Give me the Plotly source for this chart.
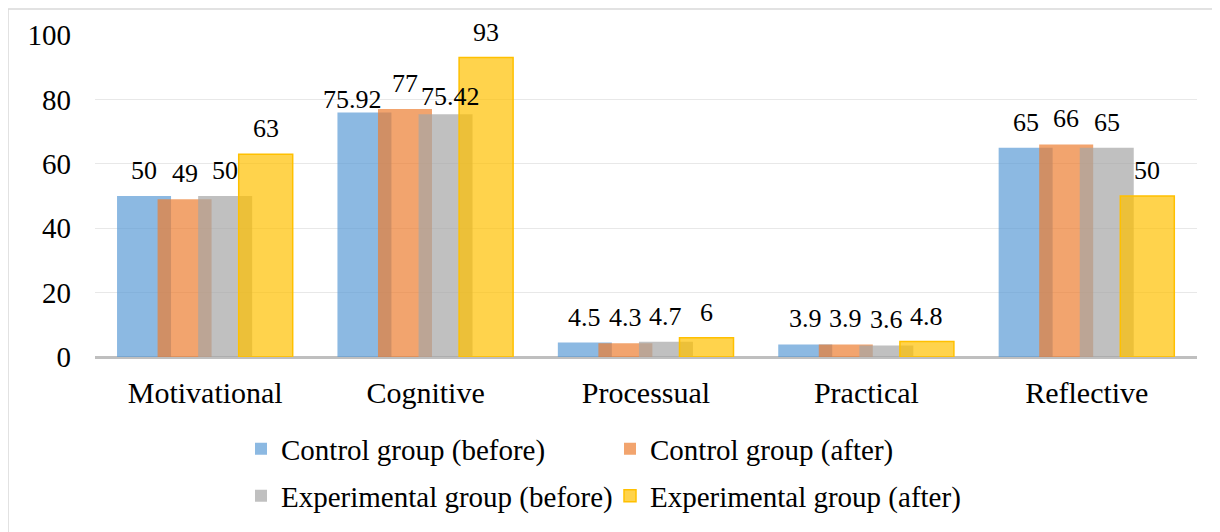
import plotly.graph_objects as go

categories = ["Motivational", "Cognitive", "Processual", "Practical", "Reflective"]
series_names = ["Control group (before)", "Control group (after)",
                "Experimental group (before)", "Experimental group (after)"]
control_before = [50, 75.92, 4.5, 3.9, 65]
control_after = [49, 77, 4.3, 3.9, 66]
experimental_before = [50, 75.42, 4.7, 3.6, 65]
experimental_after = [63, 93, 6, 4.8, 50]
label_text = [
    ["50", "75.92", "4.5", "3.9", "65"],
    ["49", "77", "4.3", "3.9", "66"],
    ["50", "75.42", "4.7", "3.6", "65"],
    ["63", "93", "6", "4.8", "50"],
]

series_values = [control_before, control_after, experimental_before, experimental_after]
fills = ["rgba(91,155,213,0.7)", "rgba(237,125,49,0.7)",
         "rgba(165,165,165,0.7)", "rgba(255,192,0,0.7)"]
lines = ["rgba(91,155,213,0)", "rgba(237,125,49,0)",
         "rgba(165,165,165,0)", "rgb(255,192,0)"]
line_w = [0, 0, 0, 1.5]
legend_ids = ["legend", "legend", "legend2", "legend2"]

# label nudges (pixels) to mimic the reference's collision-avoided labels
label_nudge = {(0, 1): (-12, -12), (1, 1): (0, 0), (2, 1): (5, -8)}

bar_w = 0.245
step = 0.184
start = -0.4
FONT = "Liberation Serif, Times New Roman, serif"

W, H = 1212, 524
ML, MR, MT, MB = 87, 23, 27, 175
PW, PH = W - ML - MR, H - MT - MB

fig = go.Figure()
annotations = []
xs = list(range(len(categories)))
for k, (name, vals) in enumerate(zip(series_names, series_values)):
    off = start + k * step
    fig.add_trace(go.Bar(
        x=xs, y=vals, name=name, width=bar_w, offset=off,
        marker=dict(color=fills[k], line=dict(color=lines[k], width=line_w[k])),
        legend=legend_ids[k],
    ))
    for i, v in enumerate(vals):
        dx, dy = label_nudge.get((k, i), (0, 0))
        annotations.append(dict(
            x=i + off + bar_w / 2, y=v, xref="x", yref="y",
            text=label_text[k][i], showarrow=False, yanchor="bottom",
            xshift=dx, yshift=9 + dy, font=dict(family=FONT, size=26, color="#000000"),
        ))

# chart border (left/top visible)
fig.add_shape(type="rect", xref="paper", yref="paper",
              x0=(0 - ML) / PW, x1=1.2, y0=-0.8, y1=1 + (MT - 1) / PH,
              line=dict(color="#D9D9D9", width=1.5), layer="below")

legend_common = dict(orientation="h", xref="container", yref="container",
                     x=233 / W, xanchor="left", yanchor="middle",
                     entrywidth=324, entrywidthmode="pixels", traceorder="normal",
                     font=dict(family=FONT, size=29, color="#000000"),
                     itemwidth=30, bgcolor="rgba(0,0,0,0)")

fig.update_layout(
    width=W, height=H,
    margin=dict(l=ML, r=MR, t=MT, b=MB, autoexpand=False),
    paper_bgcolor="white", plot_bgcolor="white",
    barmode="overlay",
    font=dict(family=FONT, size=29, color="#000000"),
    xaxis=dict(tickmode="array", tickvals=xs, ticktext=categories,
               range=[-0.5, 4.5], showgrid=False, showline=False, ticks="",
               tickfont=dict(family=FONT, size=30, color="#000000"),
               ticklabelstandoff=15, zeroline=False, automargin=False),
    yaxis=dict(range=[0, 100], dtick=20, showgrid=True, gridcolor="#E8E8E8",
               gridwidth=1, zeroline=True, zerolinecolor="#BFBFBF", zerolinewidth=2.5,
               showline=False, ticks="", tickfont=dict(family=FONT, size=29, color="#000000"),
               ticklabelstandoff=23, automargin=False),
    showlegend=True,
    legend=dict(legend_common, y=1 - 441 / H),
    legend2=dict(legend_common, y=1 - 488 / H),
    annotations=annotations,
)

fig.write_html("out.html")
